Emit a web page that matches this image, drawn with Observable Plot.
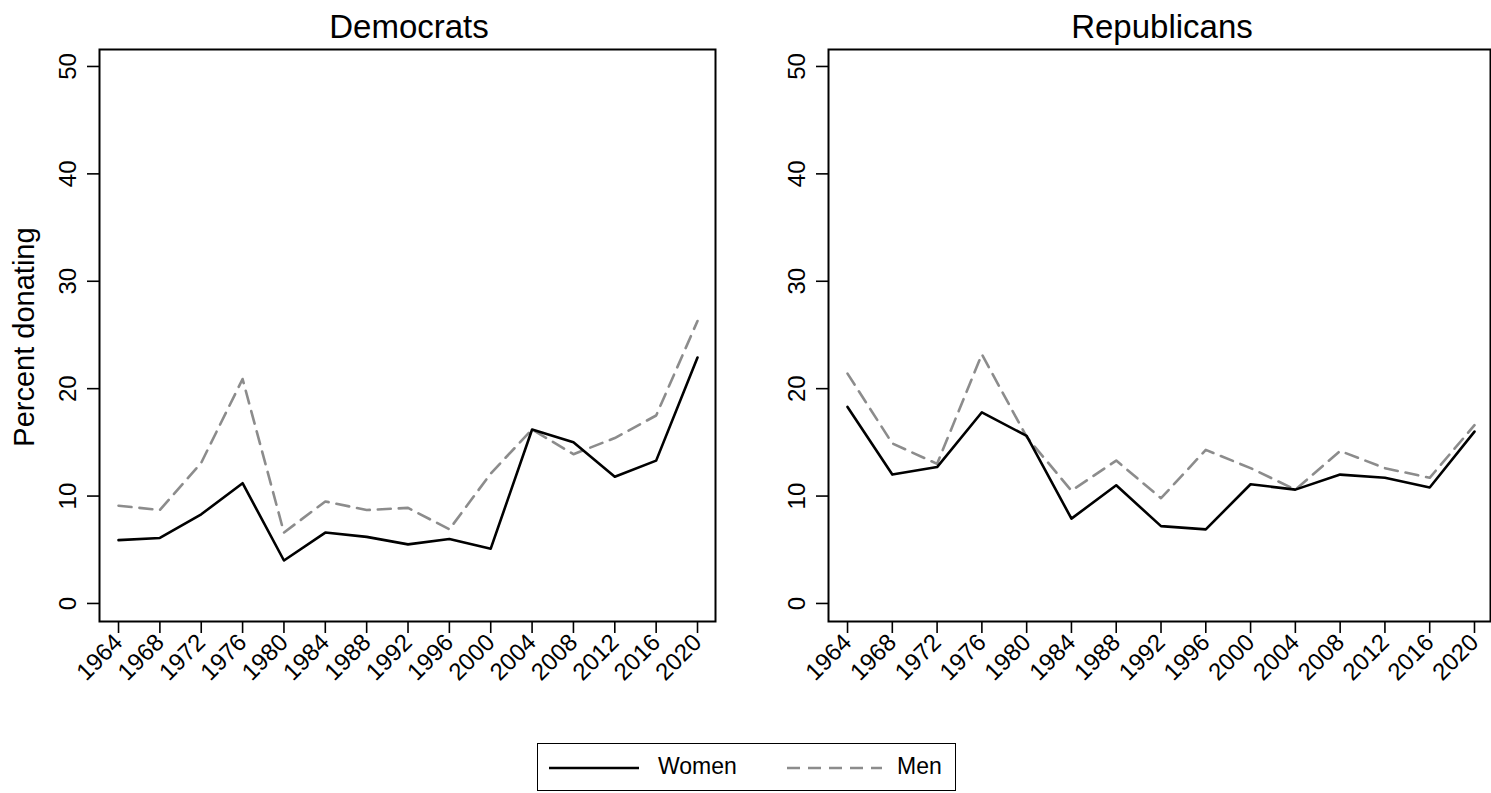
<!DOCTYPE html>
<html>
<head>
<meta charset="utf-8">
<script src="https://cdn.jsdelivr.net/npm/d3@7"></script>
<script src="https://cdn.jsdelivr.net/npm/@observablehq/plot@0.6"></script>
<style>
  html, body { margin: 0; padding: 0; background: #fff; }
  body { width: 1491px; height: 793px; position: relative; overflow: hidden; font-family: "Liberation Sans", Arial, Helvetica, sans-serif; }
  .abs { position: absolute; }
  .title { font-size: 33px; color: #000; transform: translateX(-50%); white-space: nowrap; top: 8px; }
  .ylab { font-size: 29px; color: #000; white-space: nowrap; transform: translate(-50%, -50%) rotate(-90deg); }
  #legend { left: 537px; top: 743px; width: 417px; height: 46px; border: 1.5px solid #000; }
  #legend span { position: absolute; font-size: 23px; top: 9px; }
</style>
</head>
<body>
<div id="root"></div>
<script>
// ---- data ----
const years = [1964, 1968, 1972, 1976, 1980, 1984, 1988, 1992, 1996, 2000, 2004, 2008, 2012, 2016, 2020];
const demWomen = [5.9, 6.1, 8.3, 11.2, 4.0, 6.6, 6.2, 5.5, 6.0, 5.1, 16.2, 15.0, 11.8, 13.3, 22.9];
const demMen   = [9.1, 8.7, 13.1, 20.9, 6.6, 9.5, 8.7, 8.9, 6.9, 12.1, 16.2, 13.9, 15.4, 17.5, 26.3];
const repWomen = [18.3, 12.0, 12.7, 17.8, 15.6, 7.9, 11.0, 7.2, 6.9, 11.1, 10.6, 12.0, 11.7, 10.8, 16.0];
const repMen   = [21.4, 14.9, 13.0, 23.2, 15.5, 10.5, 13.3, 9.8, 14.3, 12.6, 10.6, 14.2, 12.6, 11.7, 16.6];
const yTicks = [0, 10, 20, 30, 40, 50];
const panelTitles = ["Democrats", "Republicans"];
const seriesNames = ["Women", "Men"];
const yLabel = "Percent donating";

const font = '"Liberation Sans", Arial, Helvetica, sans-serif';
const menColor = "#8c8c8c";
const menDash = "13,8";

function panel(women, men, cfg) {
  const rows = years.map((year, i) => ({year, women: women[i], men: men[i]}));
  return Plot.plot({
    width: cfg.width,
    height: 700,
    marginTop: 49,
    marginBottom: 79,
    marginLeft: cfg.marginLeft,
    marginRight: cfg.marginRight,
    style: {fontFamily: font, fontSize: "24px", color: "#000", background: "transparent", overflow: "visible"},
    x: {domain: cfg.xDomain},
    y: {domain: [-1.68, 51.58]},
    marks: [
      Plot.axisY({ticks: yTicks, tickSize: 12, tickRotate: -90, tickPadding: 12, label: null, strokeWidth: 1.6, fontSize: 24}),
      Plot.axisX({ticks: years, tickSize: 12, tickRotate: -45, tickPadding: 5, tickFormat: d => String(d), label: null, strokeWidth: 1.6, fontSize: 24}),
      Plot.line(rows, {x: "year", y: "men", stroke: menColor, strokeWidth: 2.6, strokeDasharray: menDash, curve: "linear"}),
      Plot.line(rows, {x: "year", y: "women", stroke: "#000", strokeWidth: 2.6, curve: "linear"}),
      Plot.frame({stroke: "#000", strokeWidth: 2})
    ]
  });
}

const root = document.getElementById("root");

const left = panel(demWomen, demMen, {width: 740, marginLeft: 99, marginRight: 25, xDomain: [1962.16, 2021.74]});
left.classList.add("abs");
left.style.left = "0px"; left.style.top = "0px";
root.appendChild(left);

const right = panel(repWomen, repMen, {width: 751, marginLeft: 88, marginRight: 1, xDomain: [1962.3, 2021.43]});
right.classList.add("abs");
right.style.left = "740px"; right.style.top = "0px";
root.appendChild(right);

// titles
[[409, panelTitles[0]], [1162, panelTitles[1]]].forEach(([cx, t]) => {
  const d = document.createElement("div");
  d.className = "abs title";
  d.style.left = cx + "px";
  d.textContent = t;
  root.appendChild(d);
});

// y label
const yl = document.createElement("div");
yl.className = "abs ylab";
yl.style.left = "24px"; yl.style.top = "337px";
yl.textContent = yLabel;
root.appendChild(yl);

// legend
const leg = document.createElement("div");
leg.id = "legend"; leg.className = "abs";
leg.innerHTML = `
  <svg width="417" height="46" style="position:absolute;left:0;top:0">
    <line x1="11" x2="101" y1="24" y2="24" stroke="#000" stroke-width="2.6"/>
    <line x1="249" x2="344" y1="24" y2="24" stroke="${menColor}" stroke-width="2.6" stroke-dasharray="${menDash}"/>
  </svg>
  <span style="left:120px">${seriesNames[0]}</span>
  <span style="left:359px">${seriesNames[1]}</span>`;
root.appendChild(leg);
</script>
</body>
</html>
